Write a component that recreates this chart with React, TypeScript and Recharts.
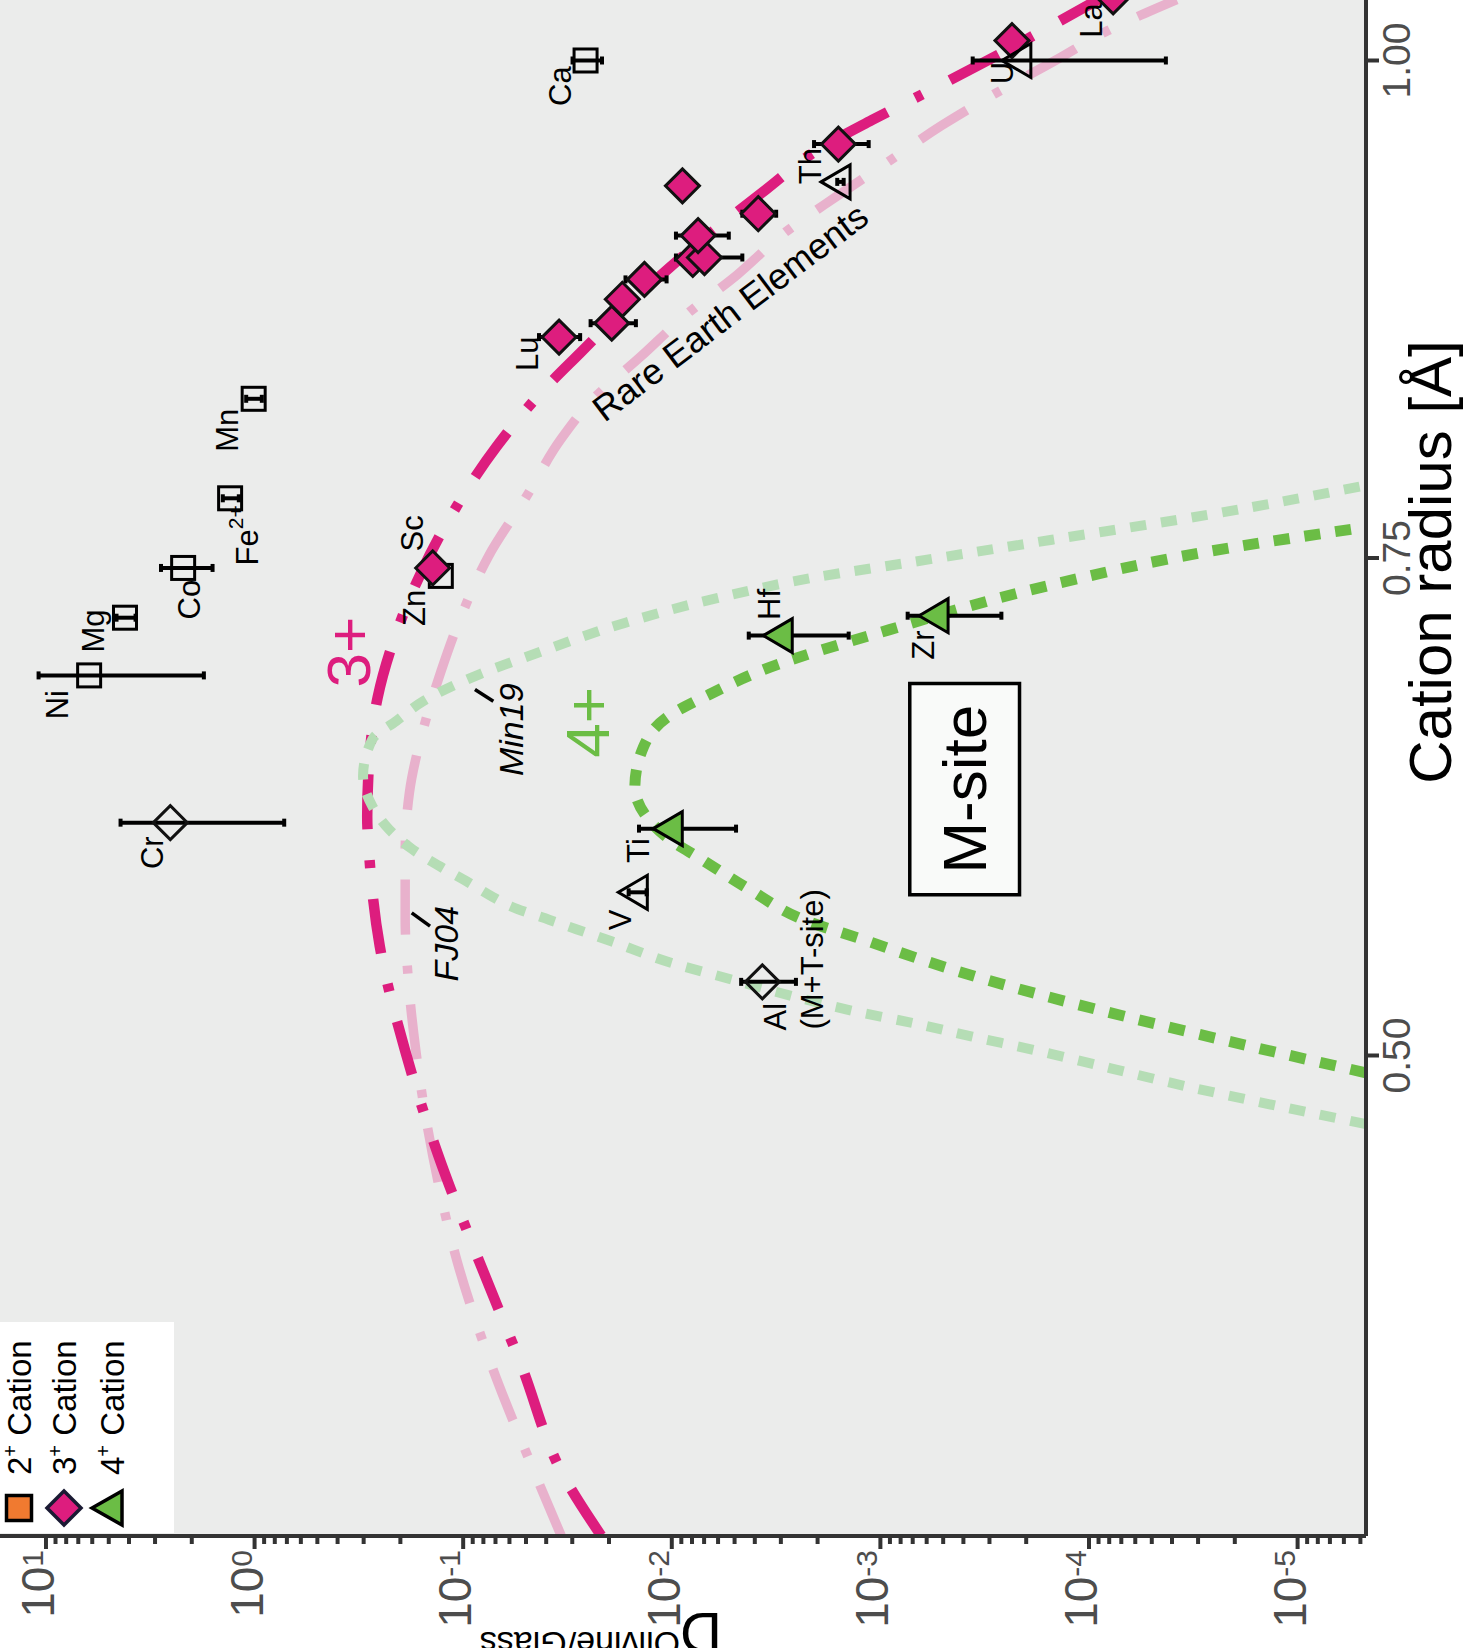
import React from "react";
import {
  ComposedChart,
  Line,
  Scatter,
  XAxis,
  YAxis,
  CartesianGrid,
  ErrorBar,
  ReferenceArea,
  ReferenceLine,
} from "recharts";

const FONT = "'Liberation Sans', Arial, Helvetica, sans-serif";
const MAGENTA = "#DD1D7E";
const PINK = "#E8B1CC";
const GREEN = "#6BBD45";
const PALE_GREEN = "#B5DDB5";
const ORANGE = "#F07A30";
const PANEL = "#EBECEB";
const AXIS = "#333333";
const TICK_TEXT = "#4D4D4D";

// the plot is laid out upright (radius along x) and turned a quarter turn afterwards
const W = 1648;
const H = 1470;

const R_MIN = 0.25854;
const R_MAX = 1.0304;
const D_MIN = 4.7e-6;
const D_MAX = 16.61;

type Pt = { el?: string; r: number; D: number; lo?: number; hi?: number };

// 2+ cations (open squares)
const cation2: Pt[] = [
  { el: "Ni", r: 0.691, D: 6.21, lo: 1.75, hi: 10.85 },
  { el: "Mg", r: 0.72, D: 4.18, lo: 3.72, hi: 4.59 },
  { el: "Co", r: 0.745, D: 2.2, lo: 1.59, hi: 2.81 },
  { el: "Fe", r: 0.78, D: 1.31, lo: 1.19, hi: 1.42 },
  { el: "Mn", r: 0.83, D: 1.01, lo: 0.923, hi: 1.097 },
  { el: "Ca", r: 1.0, D: 0.0259, lo: 0.0216, hi: 0.0299 },
  { el: "Zn", r: 0.741, D: 0.128 },
];

// 3+ cations on the fit (filled diamonds)
const cation3: Pt[] = [
  { el: "Sc", r: 0.745, D: 0.14, lo: 0.1247, hi: 0.1556 },
  { el: "Lu", r: 0.861, D: 0.0347, lo: 0.0275, hi: 0.0433 },
  { el: "Yb", r: 0.868, D: 0.0194, lo: 0.01486, hi: 0.0245 },
  { el: "Tm", r: 0.88, D: 0.01726, lo: 0.01521, hi: 0.01963 },
  { el: "Er", r: 0.89, D: 0.01352, lo: 0.01059, hi: 0.01667 },
  { el: "Y", r: 0.9, D: 0.00793 },
  { el: "Ho", r: 0.901, D: 0.00697, lo: 0.00459, hi: 0.00955 },
  { el: "Dy", r: 0.912, D: 0.00748, lo: 0.00533, hi: 0.00955 },
  { el: "Tb", r: 0.923, D: 0.00385, lo: 0.00316, hi: 0.00459 },
  { el: "Gd", r: 0.937, D: 0.00889, lo: 0.0087, hi: 0.0091 },
  { el: "Sm", r: 0.958, D: 0.00159, lo: 0.001138, hi: 0.00208 },
  { el: "Ce", r: 1.01, D: 0.000234, lo: 0.000229, hi: 0.000239 },
  { el: "La", r: 1.032, D: 0.0000766, lo: 0.000075, hi: 0.000078 },
];

// 3+ cations left out of the fit (open diamonds)
const cation3Open: Pt[] = [
  { el: "Cr", r: 0.617, D: 2.535, lo: 0.721, hi: 4.39 },
  { el: "Al", r: 0.537, D: 0.00368, lo: 0.00254, hi: 0.00465 },
];

// 4+ cations
const cation4: Pt[] = [
  { el: "Ti", r: 0.614, D: 0.00989, lo: 0.00492, hi: 0.01436 },
  { el: "Hf", r: 0.711, D: 0.002938, lo: 0.001419, hi: 0.004276 },
  { el: "Zr", r: 0.721, D: 0.000526, lo: 0.000263, hi: 0.00074 },
];

const cation4Open: Pt[] = [
  { el: "V", r: 0.582, D: 0.01455, lo: 0.0132, hi: 0.0161 },
  { el: "Th", r: 0.939, D: 0.001552, lo: 0.0015, hi: 0.00161 },
  { el: "U", r: 1.0, D: 0.000211, lo: 0.0000428, hi: 0.000361 },
];

// lattice strain curves, [radius, D]
const fit3: [number, number][] = [
  [0.2587, 2.18e-2], [0.29, 3.35e-2], [0.344, 5.25e-2], [0.397, 8.41e-2],
  [0.45, 1.318e-1], [0.503, 1.905e-1], [0.555, 2.512e-1], [0.6, 2.818e-1],
  [0.62, 2.884e-1], [0.64, 2.851e-1], [0.68, 2.57e-1], [0.714, 2.065e-1],
  [0.743, 1.585e-1], [0.77, 1.161e-1], [0.806, 6.92e-2], [0.835, 4.07e-2],
  [0.853, 2.75e-2], [0.877, 1.62e-2], [0.896, 1.023e-2], [0.916, 6.03e-3],
  [0.935, 3.55e-3], [0.955, 2.0e-3], [0.97, 1.1e-3], [0.984, 6.03e-4],
  [0.997, 3.47e-4], [1.014, 1.74e-4], [1.031, 8.91e-5],
];

const ref3: [number, number][] = [
  [0.2587, 3.39e-2], [0.2914, 4.59e-2], [0.3442, 7.31e-2], [0.397, 1.072e-1],
  [0.4499, 1.4e-1], [0.5026, 1.687e-1], [0.538, 1.832e-1], [0.5692, 1.897e-1],
  [0.6008, 1.897e-1], [0.632, 1.811e-1], [0.6637, 1.556e-1], [0.6932, 1.276e-1],
  [0.7233, 1.0e-1], [0.7508, 7.57e-2], [0.7804, 5.01e-2], [0.8099, 3.39e-2],
  [0.8295, 2.4e-2], [0.8511, 1.413e-2], [0.8733, 8.3e-3], [0.8923, 4.86e-3],
  [0.9134, 2.88e-3], [0.9319, 1.611e-3], [0.9493, 9.12e-4], [0.9673, 5.09e-4],
  [0.9831, 2.85e-4], [1.0, 1.452e-4], [1.0148, 8.2e-5], [1.0306, 3.8e-5],
];

const fit4: [number, number][] = [
  [0.4913, 4.7e-6], [0.5106, 2.95e-5], [0.5296, 1.585e-4], [0.538, 3.09e-4],
  [0.548, 6.28e-4], [0.558, 1.191e-3], [0.568, 2.31e-3], [0.583, 4.18e-3],
  [0.599, 7.31e-3], [0.609, 1.035e-2], [0.62, 1.321e-2], [0.635, 1.503e-2],
  [0.655, 1.368e-2], [0.6705, 1.035e-2], [0.681, 6.73e-3], [0.694, 3.6e-3],
  [0.714, 9.02e-4], [0.736, 1.585e-4], [0.7534, 2.63e-5], [0.7655, 4.7e-6],
];

const ref4: [number, number][] = [
  [0.4655, 4.7e-6], [0.4842, 3.31e-5], [0.5032, 1.919e-4], [0.5095, 3.63e-4],
  [0.5164, 7.05e-4], [0.5217, 1.259e-3], [0.5296, 2.59e-3], [0.538, 5.09e-3],
  [0.5465, 1.0e-2], [0.5575, 1.963e-2], [0.5681, 3.85e-2], [0.575, 5.93e-2],
  [0.5797, 7.23e-2], [0.5876, 9.66e-2], [0.595, 1.291e-1], [0.6035, 1.746e-1],
  [0.6135, 2.26e-1], [0.6251, 2.72e-1], [0.6404, 3.02e-1], [0.659, 2.72e-1],
  [0.668, 2.1e-1], [0.678, 1.556e-1], [0.6917, 8.3e-2], [0.702, 4.49e-2],
  [0.7175, 1.667e-2], [0.73, 6.0e-3], [0.74, 2.13e-3], [0.7476, 7.4e-4],
  [0.7592, 1.503e-4], [0.7719, 2.62e-5], [0.7865, 4.7e-6],
];

// annotations, anchored in data units
const elementLabels = [
  { text: "Ni", r: 0.6763, D: 8.85 },
  { text: "Mg", r: 0.7133, D: 5.89 },
  { text: "Co", r: 0.7291, D: 2.056 },
  { text: "Fe", sup: "2+", r: 0.7614, D: 1.084 },
  { text: "Mn", r: 0.8142, D: 1.352 },
  { text: "Ca", r: 0.9871, D: 0.03428 },
  { text: "Sc", r: 0.7624, D: 0.1746 },
  { text: "Zn", r: 0.7249, D: 0.1706 },
  { text: "Cr", r: 0.6019, D: 3.09 },
  { text: "Lu", r: 0.8527, D: 0.0492 },
  { text: "Th", r: 0.9469, D: 0.002153 },
  { text: "U", r: 0.9937, D: 0.0002594 },
  { text: "La", r: 1.0201, D: 0.000097 },
  { text: "Hf", r: 0.7267, D: 0.003388 },
  { text: "Zr", r: 0.7062, D: 0.000621 },
  { text: "Ti", r: 0.603, D: 0.0145 },
  { text: "V", r: 0.5681, D: 0.01758 },
  { text: "Al", r: 0.5195, D: 0.0032 },
  { text: "(M+T-site)", r: 0.5483, D: 0.002104 },
];
const chargeLabels = [
  { text: "3+", r: 0.7027, D: 0.3556 },
  { text: "4+", r: 0.6674, D: 0.02535 },
];
const chargeColor: Record<string, string> = { "3+": MAGENTA, "4+": GREEN };
const sourceLabels = [
  { text: "FJ04", r: 0.5562, D: 0.1211 },
  { text: "Min19", r: 0.6637, D: 0.0593 },
];
const sourceLeaders = [
  [{ r: 0.5717, D: 0.1765 }, { r: 0.565, D: 0.1442 }],
  [{ r: 0.6839, D: 0.0878 }, { r: 0.678, D: 0.0717 }],
];
const reeLabel = [{ text: "Rare Earth Elements", r: 0.8735, D: 0.00525 }];
const siteBox = { text: "M-site", r1: 0.5808, r2: 0.6869, D1: 2.153e-4, D2: 7.23e-4 };

const legendCharges = ["2", "3", "4"];

const radiusTicks = [0.5, 0.75, 1.0];
const decades = [1e-5, 1e-4, 1e-3, 1e-2, 1e-1, 1, 10];
const minorSteps = [2, 3, 4, 5, 6, 7, 8, 9];
const dTicks = [
  ...decades,
  ...[1e-6, ...decades].flatMap((b) => minorSteps.map((k) => k * b)),
]
  .filter((v) => v >= D_MIN && v <= D_MAX)
  .sort((a, b) => a - b);

const toPts = (c: [number, number][]) => c.map(([r, D]) => ({ r, D }));

const withErr = [...cation2, ...cation3, ...cation3Open, ...cation4, ...cation4Open]
  .filter((p) => p.lo != null && p.hi != null)
  .map((p) => ({ r: p.r, D: p.D, err: [p.D - (p.lo as number), (p.hi as number) - p.D] }));

function isDecade(v: number) {
  return decades.some((d) => Math.abs(v / d - 1) < 1e-9);
}

function DTick(props: any) {
  const { x, y, payload } = props;
  const v = payload.value;
  const major = isDecade(v);
  return (
    <g>
      <line x1={x} x2={x - (major ? 13 : 8)} y1={y} y2={y} stroke={AXIS} strokeWidth={4} />
      {major && (
        <text x={x - 14} y={y + 8} textAnchor="end" fontSize={46} fill={TICK_TEXT} fontFamily={FONT}>
          10
          <tspan dy={-11} fontSize={30}>
            {String(Math.round(Math.log10(v)))}
          </tspan>
        </text>
      )}
    </g>
  );
}

function RadiusTitle(props: any) {
  const { x, y } = props.viewBox;
  return (
    <text x={x + 974} y={y + 85} textAnchor="middle" fontSize={60} fill="#000" fontFamily={FONT}>
      Cation radius [Å]
    </text>
  );
}

function DTitle(props: any) {
  const { x, y } = props.viewBox;
  return (
    <text transform={`translate(${x + 35}, ${y + 722}) rotate(-90)`} fill="#000" fontFamily={FONT}>
      <tspan fontSize={58}>D</tspan>
      <tspan fontSize={34} dy={-19}>
        Olivine/Glass
      </tspan>
    </text>
  );
}

function SiteLabel(props: any) {
  const { x, y, width, height } = props.viewBox;
  return (
    <text
      x={x + width / 2}
      y={y + height / 2}
      textAnchor="middle"
      dominantBaseline="central"
      fontSize={62}
      fill="#000"
      fontFamily={FONT}
    >
      {siteBox.text}
    </text>
  );
}

const squareShape = (fill: string) => (p: any) => (
  <rect x={p.cx - 11.5} y={p.cy - 11.5} width={23} height={23} fill={fill} stroke="#000" strokeWidth={3} />
);
const diamondShape = (fill: string) => (p: any) => (
  <polygon
    points={`${p.cx},${p.cy - 17} ${p.cx + 17},${p.cy} ${p.cx},${p.cy + 17} ${p.cx - 17},${p.cy}`}
    fill={fill}
    stroke="#111"
    strokeWidth={3}
  />
);
const triangleShape = (fill: string) => (p: any) => (
  <polygon
    points={`${p.cx},${p.cy - 19.5} ${p.cx + 17},${p.cy + 9.5} ${p.cx - 17},${p.cy + 9.5}`}
    fill={fill}
    stroke="#000"
    strokeWidth={3}
  />
);

const textShape = (size: number, extra: any = {}) => (p: any) => (
  <text
    x={p.cx}
    y={p.cy}
    textAnchor="middle"
    dominantBaseline="central"
    fontSize={size}
    fontFamily={FONT}
    fill={extra.colorBy ? extra.colorBy[p.payload.text] : "#000"}
    fontStyle={extra.fontStyle}
    transform={extra.angle ? `rotate(${extra.angle}, ${p.cx}, ${p.cy})` : undefined}
  >
    {p.payload.text}
    {p.payload.sup && (
      <tspan dy={-12} fontSize={21}>
        {p.payload.sup}
      </tspan>
    )}
  </text>
);

function KeyBox() {
  const rowY = [19, 64, 112];
  const fills = [ORANGE, MAGENTA, GREEN];
  return (
    <svg
      width={211}
      height={174}
      style={{ position: "absolute", left: 115, top: 0 }}
      fontFamily={FONT}
    >
      <rect x={0} y={0} width={211} height={174} fill="#fff" />
      {legendCharges.map((c, i) => {
        const cy = rowY[i];
        const cx = 25;
        return (
          <g key={c}>
            {i === 0 && (
              <rect x={cx - 12.5} y={cy - 12.5} width={25} height={25} fill={fills[i]} stroke="#000" strokeWidth={3.5} />
            )}
            {i === 1 && (
              <polygon
                points={`${cx},${cy - 17} ${cx + 17},${cy} ${cx},${cy + 17} ${cx - 17},${cy}`}
                fill={fills[i]}
                stroke="#1A1A33"
                strokeWidth={3.5}
              />
            )}
            {i === 2 && (
              <polygon
                points={`${cx},${cy - 20} ${cx + 17},${cy + 10} ${cx - 17},${cy + 10}`}
                fill={fills[i]}
                stroke="#000"
                strokeWidth={3.5}
              />
            )}
            <text x={58} y={cy + 12} fontSize={33} fill="#000">
              {c}
              <tspan dy={-14} fontSize={20}>
                +
              </tspan>
              <tspan dy={14}> Cation</tspan>
            </text>
          </g>
        );
      })}
    </svg>
  );
}

export default function App() {
  return (
    <div
      style={{
        position: "absolute",
        left: 0,
        top: 0,
        width: 1470,
        height: 1648,
        overflow: "hidden",
        background: "#fff",
      }}
    >
      <div
        style={{
          position: "absolute",
          left: 0,
          top: 0,
          width: W,
          height: H,
          transformOrigin: "0 0",
          transform: `translateY(${W}px) rotate(-90deg)`,
        }}
      >
        <ComposedChart width={W} height={H} margin={{ top: 0, right: 0, bottom: 0, left: 0 }}>
          <CartesianGrid fill={PANEL} horizontal={false} vertical={false} stroke="none" />
          <XAxis
            type="number"
            dataKey="r"
            domain={[R_MIN, R_MAX]}
            allowDataOverflow
            ticks={radiusTicks}
            tickFormatter={(v: number) => v.toFixed(2)}
            height={104}
            axisLine={{ stroke: AXIS, strokeWidth: 4 }}
            tickLine={{ stroke: AXIS, strokeWidth: 4 }}
            tickSize={13}
            tickMargin={3}
            tick={{ fill: TICK_TEXT, fontSize: 39, fontFamily: FONT }}
            label={<RadiusTitle />}
          />
          <YAxis
            type="number"
            dataKey="D"
            scale="log"
            domain={[D_MIN, D_MAX]}
            allowDataOverflow
            ticks={dTicks}
            interval={0}
            width={112}
            axisLine={{ stroke: AXIS, strokeWidth: 4 }}
            tickLine={false}
            tickSize={0}
            tickMargin={0}
            tick={(p: any) => <DTick {...p} />}
            label={<DTitle />}
          />

          <ReferenceArea
            x1={siteBox.r1}
            x2={siteBox.r2}
            y1={siteBox.D1}
            y2={siteBox.D2}
            fill="#F9FAF9"
            fillOpacity={1}
            stroke="#000"
            strokeWidth={3.5}
            label={<SiteLabel />}
          />

          <Line data={toPts(ref3)} dataKey="D" type="monotone" stroke={PINK} strokeWidth={9.5}
            strokeDasharray="55 31 8 31" dot={false} activeDot={false} isAnimationActive={false} />
          <Line data={toPts(fit3)} dataKey="D" type="monotone" stroke={MAGENTA} strokeWidth={10.5}
            strokeDasharray="55 31 8 31" dot={false} activeDot={false} isAnimationActive={false} />
          <Line data={toPts(ref4)} dataKey="D" type="monotone" stroke={PALE_GREEN} strokeWidth={10}
            strokeDasharray="16 15" dot={false} activeDot={false} isAnimationActive={false} />
          <Line data={toPts(fit4)} dataKey="D" type="monotone" stroke={GREEN} strokeWidth={11}
            strokeDasharray="16 15" dot={false} activeDot={false} isAnimationActive={false} />

          {sourceLeaders.map((seg, i) => (
            <ReferenceLine
              key={i}
              segment={[{ x: seg[0].r, y: seg[0].D }, { x: seg[1].r, y: seg[1].D }]}
              stroke="#000"
              strokeWidth={3.5}
            />
          ))}

          <Scatter data={cation2} shape={squareShape("none")} isAnimationActive={false} />
          <Scatter data={cation3Open} shape={diamondShape("none")} isAnimationActive={false} />
          <Scatter data={cation3} shape={diamondShape(MAGENTA)} isAnimationActive={false} />
          <Scatter data={cation4Open} shape={triangleShape("none")} isAnimationActive={false} />
          <Scatter data={cation4} shape={triangleShape(GREEN)} isAnimationActive={false} />

          <Scatter data={withErr} shape={() => <g />} isAnimationActive={false}>
            <ErrorBar dataKey="err" direction="y" width={4} stroke="#000" strokeWidth={4} isAnimationActive={false} />
          </Scatter>

          <Scatter data={elementLabels} shape={textShape(31)} isAnimationActive={false} />
          <Scatter data={chargeLabels} shape={textShape(62, { colorBy: chargeColor })} isAnimationActive={false} />
          <Scatter data={sourceLabels} shape={textShape(34, { fontStyle: "italic" })} isAnimationActive={false} />
          <Scatter data={reeLabel} shape={textShape(36, { angle: 52.9 })} isAnimationActive={false} />
        </ComposedChart>
        <KeyBox />
      </div>
    </div>
  );
}
